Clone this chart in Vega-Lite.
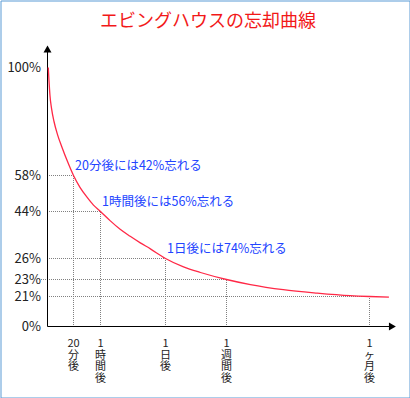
{
  "$schema": "https://vega.github.io/schema/vega-lite/v6.json",
  "width": 409,
  "height": 397,
  "padding": 0.5,
  "autosize": {"type": "none"},
  "background": "white",
  "config": {"view": {"stroke": "#5b9bd5", "strokeWidth": 1}},
  "title": {"text": "エビングハウスの忘却曲線", "color": "#f21818", "fontSize": 18, "font": "Noto Sans CJK JP", "fontWeight": "normal", "anchor": "middle", "frame": "group", "offset": -30, "dx": 3},
  "datasets": {
    "curve": [
      {"t": 0.6, "r": 100}, {"t": 1.15, "r": 94.9}, {"t": 1.9, "r": 89.1}, {"t": 3.1, "r": 84.1},
      {"t": 5.0, "r": 79.0}, {"t": 7.7, "r": 73.9}, {"t": 11.2, "r": 68.9}, {"t": 15.4, "r": 63.4},
      {"t": 20, "r": 58},
      {"t": 29.6, "r": 53.4}, {"t": 40, "r": 49.6}, {"t": 49.6, "r": 46.5}, {"t": 60, "r": 44},
      {"t": 263, "r": 40.5}, {"t": 477, "r": 37.2}, {"t": 691, "r": 34.5}, {"t": 905, "r": 32.0},
      {"t": 1119, "r": 29.7}, {"t": 1440, "r": 26}, {"t": 3990, "r": 24.8}, {"t": 6397, "r": 24.0},
      {"t": 10080, "r": 23}, {"t": 15619, "r": 22.4}, {"t": 23236, "r": 21.8}, {"t": 31083, "r": 21.4},
      {"t": 38699, "r": 21.1}, {"t": 43200, "r": 21}, {"t": 47700, "r": 20.6}
    ],
    "hgrid": [
      {"r": 58, "t": 0, "t2": 20}, {"r": 44, "t": 0, "t2": 60}, {"r": 26, "t": 0, "t2": 1440},
      {"r": 23, "t": -6.15, "t2": 10080}, {"r": 21, "t": 0, "t2": 43200}
    ],
    "vgrid": [
      {"t": 20, "r": 0, "r2": 58}, {"t": 60, "r": 0, "r2": 44}, {"t": 1440, "r": 0, "r2": 26},
      {"t": 10080, "r": 0, "r2": 23}, {"t": 43200, "r": 0, "r2": 21}
    ],
    "axes": [
      {"t": 0, "t2": 0, "r": 0, "r2": 107.2},
      {"t": 0, "t2": 48500, "r": 0, "r2": 0}
    ],
    "yarrow": [{"t": 0, "r": 107.2}],
    "xarrow": [{"t": 48500, "r": 0}],
    "ylabels": [
      {"t": 0, "r": 100, "label": "100%"}, {"t": 0, "r": 58, "label": "58%"}, {"t": 0, "r": 44, "label": "44%"},
      {"t": 0, "r": 26, "label": "26%"}, {"t": 0, "r": 23, "label": "23%"}, {"t": 0, "r": 21, "label": "21%"},
      {"t": 0, "r": 0, "label": "0%"}
    ],
    "xlabels": [
      {"t": 20, "r": 0, "label": "20\n分\n後"}, {"t": 60, "r": 0, "label": "1\n時\n間\n後"},
      {"t": 1440, "r": 0, "label": "1\n日\n後"}, {"t": 10080, "r": 0, "label": "1\n週\n間\n後"},
      {"t": 43200, "r": 0, "label": "1\nヶ\n月\n後"}
    ],
    "notes": [
      {"t": 20, "r": 58, "label": "20分後には42%忘れる"},
      {"t": 60, "r": 44, "label": "1時間後には56%忘れる"},
      {"t": 1440, "r": 26, "label": "1日後には74%忘れる"}
    ]
  },
  "encoding": {
    "x": {"field": "t", "type": "quantitative", "axis": null, "scale": {"type": "linear", "domain": [0, 20, 60, 1440, 10080, 43200], "range": [47, 73, 100, 165, 226, 369]}},
    "y": {"field": "r", "type": "quantitative", "axis": null, "scale": {"type": "linear", "domain": [0, 21, 23, 26, 44, 58, 100], "range": [326, 296, 279, 258, 211, 175, 67]}}
  },
  "layer": [
    {
      "data": {"name": "hgrid"},
      "mark": {"type": "rule", "color": "#808080", "strokeWidth": 1, "strokeDash": [1, 1], "strokeDashOffset": 0.5},
      "encoding": {"x2": {"field": "t2"}}
    },
    {
      "data": {"name": "vgrid"},
      "mark": {"type": "rule", "color": "#808080", "strokeWidth": 1, "strokeDash": [1, 1], "strokeDashOffset": 0.5},
      "encoding": {"y2": {"field": "r2"}}
    },
    {
      "data": {"name": "axes"},
      "mark": {"type": "rule", "color": "#000000", "strokeWidth": 1},
      "encoding": {"x2": {"field": "t2"}, "y2": {"field": "r2"}}
    },
    {
      "data": {"name": "yarrow"},
      "mark": {"type": "point", "shape": "triangle-up", "filled": true, "color": "#000000", "size": 64, "opacity": 1, "strokeWidth": 0},
      "encoding": {}
    },
    {
      "data": {"name": "xarrow"},
      "mark": {"type": "point", "shape": "triangle-right", "filled": true, "color": "#000000", "size": 64, "opacity": 1, "strokeWidth": 0},
      "encoding": {}
    },
    {
      "data": {"name": "curve"},
      "mark": {"type": "line", "color": "#ff2846", "strokeWidth": 1.3, "interpolate": "monotone"},
      "encoding": {}
    },
    {
      "data": {"name": "ylabels"},
      "mark": {"type": "text", "align": "right", "baseline": "middle", "dx": -6.5, "fontSize": 13, "font": "Noto Sans CJK JP", "color": "#222222"},
      "encoding": {"text": {"field": "label"}}
    },
    {
      "data": {"name": "xlabels"},
      "mark": {"type": "text", "align": "center", "baseline": "top", "dy": 11.5, "fontSize": 11, "lineHeight": 11.6, "lineBreak": "\n", "font": "Noto Sans CJK JP", "color": "#222222"},
      "encoding": {"text": {"field": "label"}}
    },
    {
      "data": {"name": "notes"},
      "mark": {"type": "text", "align": "left", "baseline": "middle", "dx": 1.5, "dy": -9.5, "fontSize": 12.5, "font": "Noto Sans CJK JP", "color": "#2244ff"},
      "encoding": {"text": {"field": "label"}}
    }
  ]
}
